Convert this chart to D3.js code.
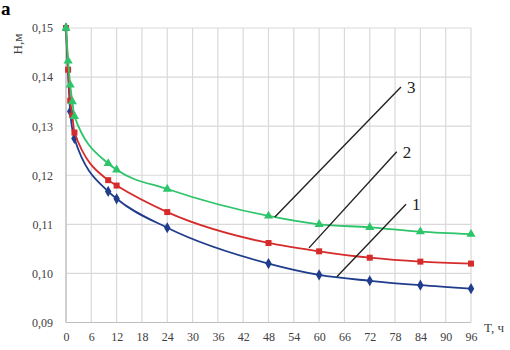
<!DOCTYPE html>
<html><head><meta charset="utf-8">
<script src="https://cdn.jsdelivr.net/npm/d3@7"></script>
<style>body{margin:0;background:#fff}svg{display:block}svg text{font-family:"Liberation Serif","DejaVu Serif",serif}</style>
</head><body>
<svg id="c" width="510" height="350"></svg>
<script>
const xTicks = [0,6,12,18,24,30,36,42,48,54,60,66,72,78,84,90,96];
const yTicks = [0.09,0.10,0.11,0.12,0.13,0.14,0.15];
const t1 = [0,1,2,10,12,24,48,60,72,84,96];
const h1 = [0.150,0.1330,0.1275,0.1167,0.1152,0.1093,0.1020,0.0997,0.0985,0.0976,0.0969];
const t2 = [0,0.5,1,1.5,2,10,12,24,48,60,72,84,96];
const h2 = [0.150,0.1415,0.1352,0.1322,0.1287,0.1190,0.1179,0.1125,0.1062,0.1045,0.1032,0.1024,0.1020];
const t3 = [0,0.5,1,1.5,2,10,12,24,48,60,72,84,96];
const h3 = [0.150,0.1433,0.1384,0.1350,0.1320,0.1224,0.1211,0.1172,0.1117,0.1100,0.1094,0.1085,0.1080];
const labels = ["1","2","3"];
// leader lines: [t_end, h_end, t_start, h_start]
const leaders = [[64.2,0.0993,80.6,0.1141],[57.6,0.1052,78.4,0.1248],[49.5,0.1115,79.4,0.1380]];

const svg = d3.select("#c");
const x = d3.scaleLinear().domain([0,96]).range([66,471]);
const y = d3.scaleLinear().domain([0.09,0.15]).range([322.5,28]);
const fmt = d => d3.format(".2f")(d).replace(".", ",");

// grid
svg.append("g").selectAll("line").data(xTicks).join("line")
  .attr("x1",d=>x(d)).attr("x2",d=>x(d)).attr("y1",y(0.15)).attr("y2",y(0.09))
  .attr("stroke","#d9d9d9").attr("stroke-width",1.2);
svg.append("g").selectAll("line").data(yTicks).join("line")
  .attr("x1",x(0)).attr("x2",x(96)).attr("y1",d=>y(d)).attr("y2",d=>y(d))
  .attr("stroke","#d9d9d9").attr("stroke-width",1.2);
svg.append("line").attr("x1",x(0)).attr("x2",x(0)).attr("y1",y(0.15)).attr("y2",y(0.09)).attr("stroke","#bfbfbf").attr("stroke-width",1.2);
svg.append("line").attr("x1",x(0)).attr("x2",x(96)).attr("y1",y(0.09)).attr("y2",y(0.09)).attr("stroke","#bfbfbf").attr("stroke-width",1.2);

const gx = svg.append("g").attr("transform",`translate(0,${y(0.09)})`)
  .call(d3.axisBottom(x).tickValues(xTicks).tickSize(0).tickPadding(10).tickFormat(d3.format("d")));
const gy = svg.append("g").attr("transform",`translate(${x(0)},0)`)
  .call(d3.axisLeft(y).tickValues(yTicks).tickSize(0).tickPadding(13).tickFormat(fmt));
[gx,gy].forEach(g=>{g.select(".domain").remove();
  g.selectAll("text").attr("font-family",null).attr("font-size",12).attr("fill","#404040");});
gx.attr("font-family",null); gy.attr("font-family",null);

const series = [
  {t:t1,h:h1,c:"#1f3d8c",sym:d3.symbolDiamond},
  {t:t2,h:h2,c:"#d62b2b",sym:d3.symbolSquare},
  {t:t3,h:h3,c:"#2dc46a",sym:d3.symbolTriangle}
];
const line = d3.line().x(d=>x(d[0])).y(d=>y(d[1])).curve(d3.curveMonotoneX);
series.forEach(s=>{
  const pts = s.t.map((t,i)=>[t,s.h[i]]);
  svg.append("path").attr("d",line(pts)).attr("fill","none").attr("stroke",s.c).attr("stroke-width",1.8);
  svg.append("g").selectAll("path").data(pts).join("path")
    .attr("transform",d=>`translate(${x(d[0])},${y(d[1])})`)
    .attr("d",d3.symbol().type(s.sym).size(36)).attr("fill",s.c);
});

leaders.forEach((l,i)=>{
  svg.append("line").attr("x1",x(l[0])).attr("y1",y(l[1])).attr("x2",x(l[2])).attr("y2",y(l[3]))
    .attr("stroke","#222").attr("stroke-width",1.4);
  svg.append("text").attr("x",x(l[2])+6).attr("y",y(l[3])+6).text(labels[i])
    .attr("font-size",17).attr("fill","#222");
});

svg.append("text").attr("transform","translate(22,44) rotate(-90)").attr("text-anchor","middle")
  .text("H,м").attr("font-size",13).attr("fill","#404040");
svg.append("text").attr("x",484).attr("y",332).text("T, ч")
  .attr("font-size",13).attr("fill","#404040");
svg.append("text").attr("x",1).attr("y",15).text("a")
  .attr("font-size",19).attr("font-weight","bold").attr("fill","#000");
</script>
</body></html>
